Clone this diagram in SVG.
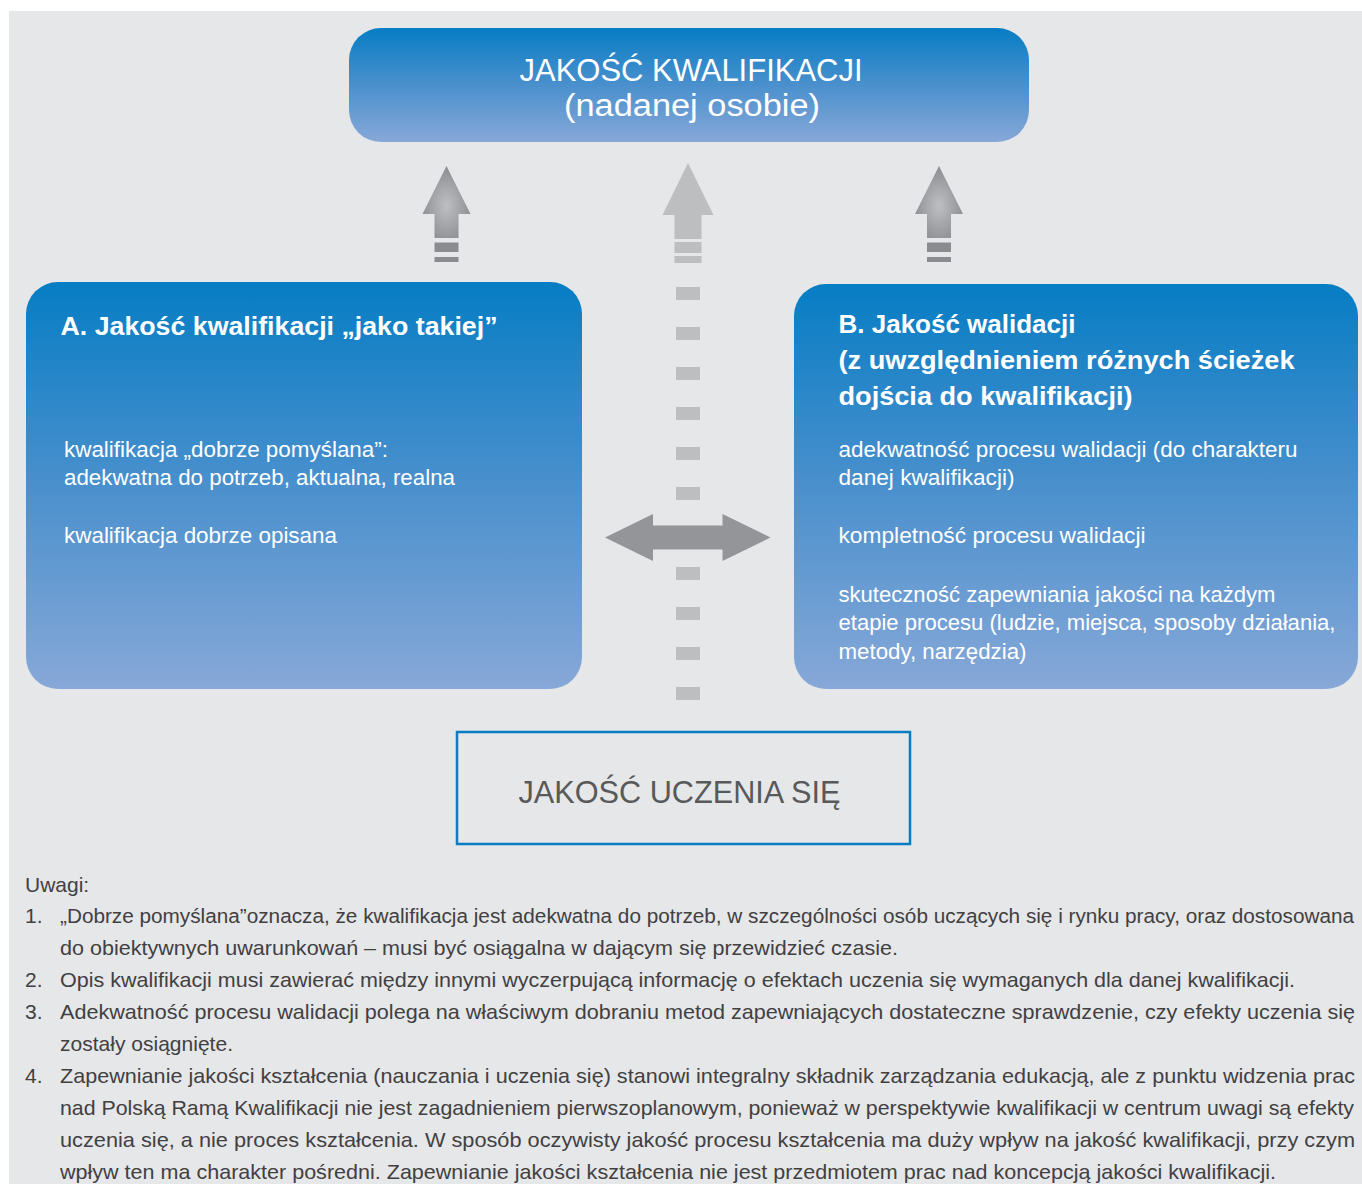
<svg xmlns="http://www.w3.org/2000/svg" width="1362" height="1184" viewBox="0 0 1362 1184">
<defs>
<linearGradient id="boxGrad" x1="0" y1="0" x2="0" y2="1">
<stop offset="0" stop-color="#067dc4"/>
<stop offset="0.5" stop-color="#4a90cd"/>
<stop offset="1" stop-color="#87a8d8"/>
</linearGradient>
<radialGradient id="upGrad" cx="0.5" cy="0.55" r="0.6">
<stop offset="0" stop-color="#bdbfc2"/>
<stop offset="1" stop-color="#86888c"/>
</radialGradient>
<style>
.title{font-family:"Liberation Sans",Arial,sans-serif;font-size:31px;fill:#ffffff}
.head{font-family:"Liberation Sans",Arial,sans-serif;font-size:25px;font-weight:bold;fill:#ffffff}
.body{font-family:"Liberation Sans",Arial,sans-serif;font-size:22px;fill:#ffffff}
.note{font-family:"Liberation Sans",Arial,sans-serif;font-size:21px;fill:#414042}
.tight{font-size:20px}
.dash{fill:#bcbec0}
.dark{fill:#8a8c90}
</style>
</defs>
<rect x="0" y="0" width="1362" height="1184" fill="#ffffff"/>
<rect x="9" y="11" width="1353" height="1173" fill="#e6e7e8"/>

<g id="connectors">
<g id="arrow-left-up">
<path d="M446.5,166 L470.5,214 L458.5,214 L458.5,238 L434.5,238 L434.5,214 L422.5,214 Z" fill="url(#upGrad)"/>
<rect class="dark" x="434.5" y="242.5" width="24" height="9.5"/>
<rect class="dark" x="434.5" y="257" width="24" height="5"/>
</g>
<g id="arrow-right-up">
<path d="M939,166 L963,214 L951,214 L951,238 L927,238 L927,214 L915,214 Z" fill="url(#upGrad)"/>
<rect class="dark" x="927" y="242.5" width="24" height="9.5"/>
<rect class="dark" x="927" y="257" width="24" height="5"/>
</g>
<g id="arrow-middle-up">
<path d="M688,163 L713.5,215 L701.5,215 L701.5,239 L674.5,239 L674.5,215 L662.5,215 Z" class="dash"/>
<rect class="dash" x="674.5" y="242" width="27" height="11"/>
<rect class="dash" x="674.5" y="256" width="27" height="7"/>
<rect class="dash" x="676" y="287" width="24" height="13"/>
<rect class="dash" x="676" y="327" width="24" height="13"/>
<rect class="dash" x="676" y="367" width="24" height="13"/>
<rect class="dash" x="676" y="407" width="24" height="13"/>
<rect class="dash" x="676" y="447" width="24" height="13"/>
<rect class="dash" x="676" y="487" width="24" height="13"/>
<rect class="dash" x="676" y="567" width="24" height="13"/>
<rect class="dash" x="676" y="607" width="24" height="13"/>
<rect class="dash" x="676" y="647" width="24" height="13"/>
<rect class="dash" x="676" y="687" width="24" height="13"/>
</g>
<path id="arrow-double" d="M605,537.5 L653,514 L653,525.5 L722.5,525.5 L722.5,514 L770.5,537.5 L722.5,561 L722.5,549.5 L653,549.5 L653,561 Z" fill="#939598"/>
</g>

<g id="node-top">
<rect x="349" y="28" width="680" height="114" rx="32" ry="32" fill="url(#boxGrad)"/>
<text class="title" x="691" y="81" text-anchor="middle" textLength="343" lengthAdjust="spacingAndGlyphs">JAKOŚĆ KWALIFIKACJI</text>
<text class="title" x="692" y="116" text-anchor="middle" textLength="256" lengthAdjust="spacingAndGlyphs">(nadanej osobie)</text>
</g>

<g id="node-a">
<rect x="26" y="282" width="556" height="407" rx="32" ry="32" fill="url(#boxGrad)"/>
<text class="head" x="60.5" y="335" textLength="437" lengthAdjust="spacingAndGlyphs">A. Jakość kwalifikacji „jako takiej”</text>
<text class="body" x="64" y="456.5" textLength="324" lengthAdjust="spacingAndGlyphs">kwalifikacja „dobrze pomyślana”:</text>
<text class="body" x="64" y="485" textLength="391" lengthAdjust="spacingAndGlyphs">adekwatna do potrzeb, aktualna, realna</text>
<text class="body" x="64" y="542.5" textLength="273" lengthAdjust="spacingAndGlyphs">kwalifikacja dobrze opisana</text>
</g>

<g id="node-b">
<rect x="794" y="284" width="564" height="405" rx="32" ry="32" fill="url(#boxGrad)"/>
<text class="head" x="838.5" y="333" textLength="237" lengthAdjust="spacingAndGlyphs">B. Jakość walidacji</text>
<text class="head" x="838.5" y="369" textLength="456" lengthAdjust="spacingAndGlyphs">(z uwzględnieniem różnych ścieżek</text>
<text class="head" x="838.5" y="404.5" textLength="294" lengthAdjust="spacingAndGlyphs">dojścia do kwalifikacji)</text>
<text class="body" x="838.5" y="457" textLength="459" lengthAdjust="spacingAndGlyphs">adekwatność procesu walidacji (do charakteru</text>
<text class="body" x="838.5" y="485" textLength="176" lengthAdjust="spacingAndGlyphs">danej kwalifikacji)</text>
<text class="body" x="838.5" y="543" textLength="307" lengthAdjust="spacingAndGlyphs">kompletność procesu walidacji</text>
<text class="body" x="838.5" y="601.5" textLength="437" lengthAdjust="spacingAndGlyphs">skuteczność zapewniania jakości na każdym</text>
<text class="body" x="838.5" y="630" textLength="497" lengthAdjust="spacingAndGlyphs">etapie procesu (ludzie, miejsca, sposoby działania,</text>
<text class="body" x="838.5" y="658.5" textLength="188" lengthAdjust="spacingAndGlyphs">metody, narzędzia)</text>
</g>

<g id="node-bottom">
<rect x="457" y="732" width="453" height="112" fill="none" stroke="#0a7cc4" stroke-width="2.5"/>
<text x="679.5" y="802.5" text-anchor="middle" textLength="322" lengthAdjust="spacingAndGlyphs" style="font-family:'Liberation Sans',Arial,sans-serif;font-size:31px;fill:#58595b">JAKOŚĆ UCZENIA SIĘ</text>
</g>

<g id="notes">
<text class="note" x="25" y="891.5">Uwagi:</text>
<text class="note" x="25" y="923">1.</text>
<text class="note tight" x="60" y="923" textLength="1294" lengthAdjust="spacingAndGlyphs">„Dobrze pomyślana”oznacza, że kwalifikacja jest adekwatna do potrzeb, w szczególności osób uczących się i rynku pracy, oraz dostosowana</text>
<text class="note" x="60" y="955" textLength="838" lengthAdjust="spacingAndGlyphs">do obiektywnych uwarunkowań – musi być osiągalna w dającym się przewidzieć czasie.</text>
<text class="note" x="25" y="987">2.</text>
<text class="note" x="60" y="987" textLength="1235" lengthAdjust="spacingAndGlyphs">Opis kwalifikacji musi zawierać między innymi wyczerpującą informację o efektach uczenia się wymaganych dla danej kwalifikacji.</text>
<text class="note" x="25" y="1019">3.</text>
<text class="note" x="60" y="1019" textLength="1295" lengthAdjust="spacingAndGlyphs">Adekwatność procesu walidacji polega na właściwym dobraniu metod zapewniających dostateczne sprawdzenie, czy efekty uczenia się</text>
<text class="note" x="60" y="1051" textLength="173" lengthAdjust="spacingAndGlyphs">zostały osiągnięte.</text>
<text class="note" x="25" y="1083">4.</text>
<text class="note" x="60" y="1083" textLength="1295" lengthAdjust="spacingAndGlyphs">Zapewnianie jakości kształcenia (nauczania i uczenia się) stanowi integralny składnik zarządzania edukacją, ale z punktu widzenia prac</text>
<text class="note" x="60" y="1115" textLength="1294" lengthAdjust="spacingAndGlyphs">nad Polską Ramą Kwalifikacji nie jest zagadnieniem pierwszoplanowym, ponieważ w perspektywie kwalifikacji w centrum uwagi są efekty</text>
<text class="note" x="60" y="1147" textLength="1295" lengthAdjust="spacingAndGlyphs">uczenia się, a nie proces kształcenia. W sposób oczywisty jakość procesu kształcenia ma duży wpływ na jakość kwalifikacji, przy czym</text>
<text class="note" x="60" y="1179" textLength="1216" lengthAdjust="spacingAndGlyphs">wpływ ten ma charakter pośredni. Zapewnianie jakości kształcenia nie jest przedmiotem prac nad koncepcją jakości kwalifikacji.</text>
</g>
</svg>
